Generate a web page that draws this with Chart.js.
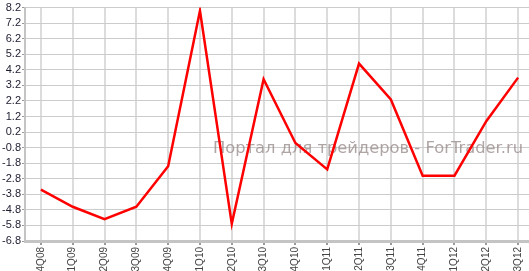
<!DOCTYPE html>
<html>
<head>
<meta charset="utf-8">
<script src="https://cdn.jsdelivr.net/npm/chart.js@4"></script>
<style>
  html, body { margin: 0; padding: 0; background: #fff; overflow: hidden; }
  .container { width: 534px; height: 271px; }
</style>
</head>
<body>
<div class="container">
  <canvas id="gdp"></canvas>
</div>
<script>
const quarters = ['4Q08','1Q09','2Q09','3Q09','4Q09','1Q10','2Q10','3Q10','4Q10','1Q11','2Q11','3Q11','4Q11','1Q12','2Q12','3Q12']
const values = [-3.5,-4.6,-5.4,-4.6,-2.0,8.0,-5.7,3.6,-0.5,-2.2,4.6,2.3,-2.6,-2.6,0.9,3.7]
const yTicks = [-6.8,-5.8,-4.8,-3.8,-2.8,-1.8,-0.8,0.2,1.2,2.2,3.2,4.2,5.2,6.2,7.2,8.2]
const watermark = 'Портал для трейдеров - ForTrader.ru'

// watermark drawn under the line
const watermarkPlugin = {
  id: 'watermark',
  beforeDatasetsDraw(chart) {
    const ctx = chart.ctx
    ctx.save()
    ctx.font = '16px "DejaVu Sans"'
    const w = ctx.measureText(watermark).width
    ctx.setTransform(310 / w, 0, 0, 1, 0, 0)
    ctx.fillStyle = 'rgba(150,135,135,0.75)'
    ctx.textBaseline = 'alphabetic'
    ctx.fillText(watermark, 213 * w / 310, 153)
    ctx.restore()
  }
}

new Chart(document.getElementById('gdp'), {
  type: 'line',
  data: {
    labels: quarters,
    datasets: [{
      data: values,
      borderColor: '#ff0000',
      borderWidth: 2.5,
      pointRadius: 0,
      tension: 0,
      fill: false
    }]
  },
  options: {
    responsive: true,
    maintainAspectRatio: false,
    animation: false,
    layout: { padding: { top: 6, right: 0, bottom: 0, left: 0 } },
    plugins: {
      legend: { display: false },
      tooltip: { enabled: false }
    },
    scales: {
      x: {
        offset: true,
        afterFit: scale => { scale.height = 30 },
        grid: {
          offset: false,
          color: '#dcdcdc',
          lineWidth: 2,
          drawTicks: true,
          tickLength: 4,
          tickColor: '#999'
        },
        border: { color: '#c4c4c4', width: 3 },
        ticks: {
          minRotation: 90,
          maxRotation: 90,
          autoSkip: false,
          padding: 2,
          color: '#444',
          font: { family: 'Liberation Sans', size: 10 }
        }
      },
      y: {
        min: -6.8,
        max: 8.2,
        afterBuildTicks: scale => {
          scale.ticks = yTicks.map(v => ({ value: v }))
        },
        afterFit: scale => { scale.width = 25 },
        grid: {
          color: '#cccccc',
          lineWidth: 1,
          drawTicks: true,
          tickLength: 3,
          tickColor: '#999'
        },
        border: { color: '#c4c4c4', width: 2 },
        ticks: {
          autoSkip: false,
          padding: 1,
          color: '#1c1c30',
          font: { family: 'Liberation Sans', size: 11 },
          callback: v => v.toFixed(1)
        }
      }
    }
  },
  plugins: [watermarkPlugin]
})
</script>
</body>
</html>
